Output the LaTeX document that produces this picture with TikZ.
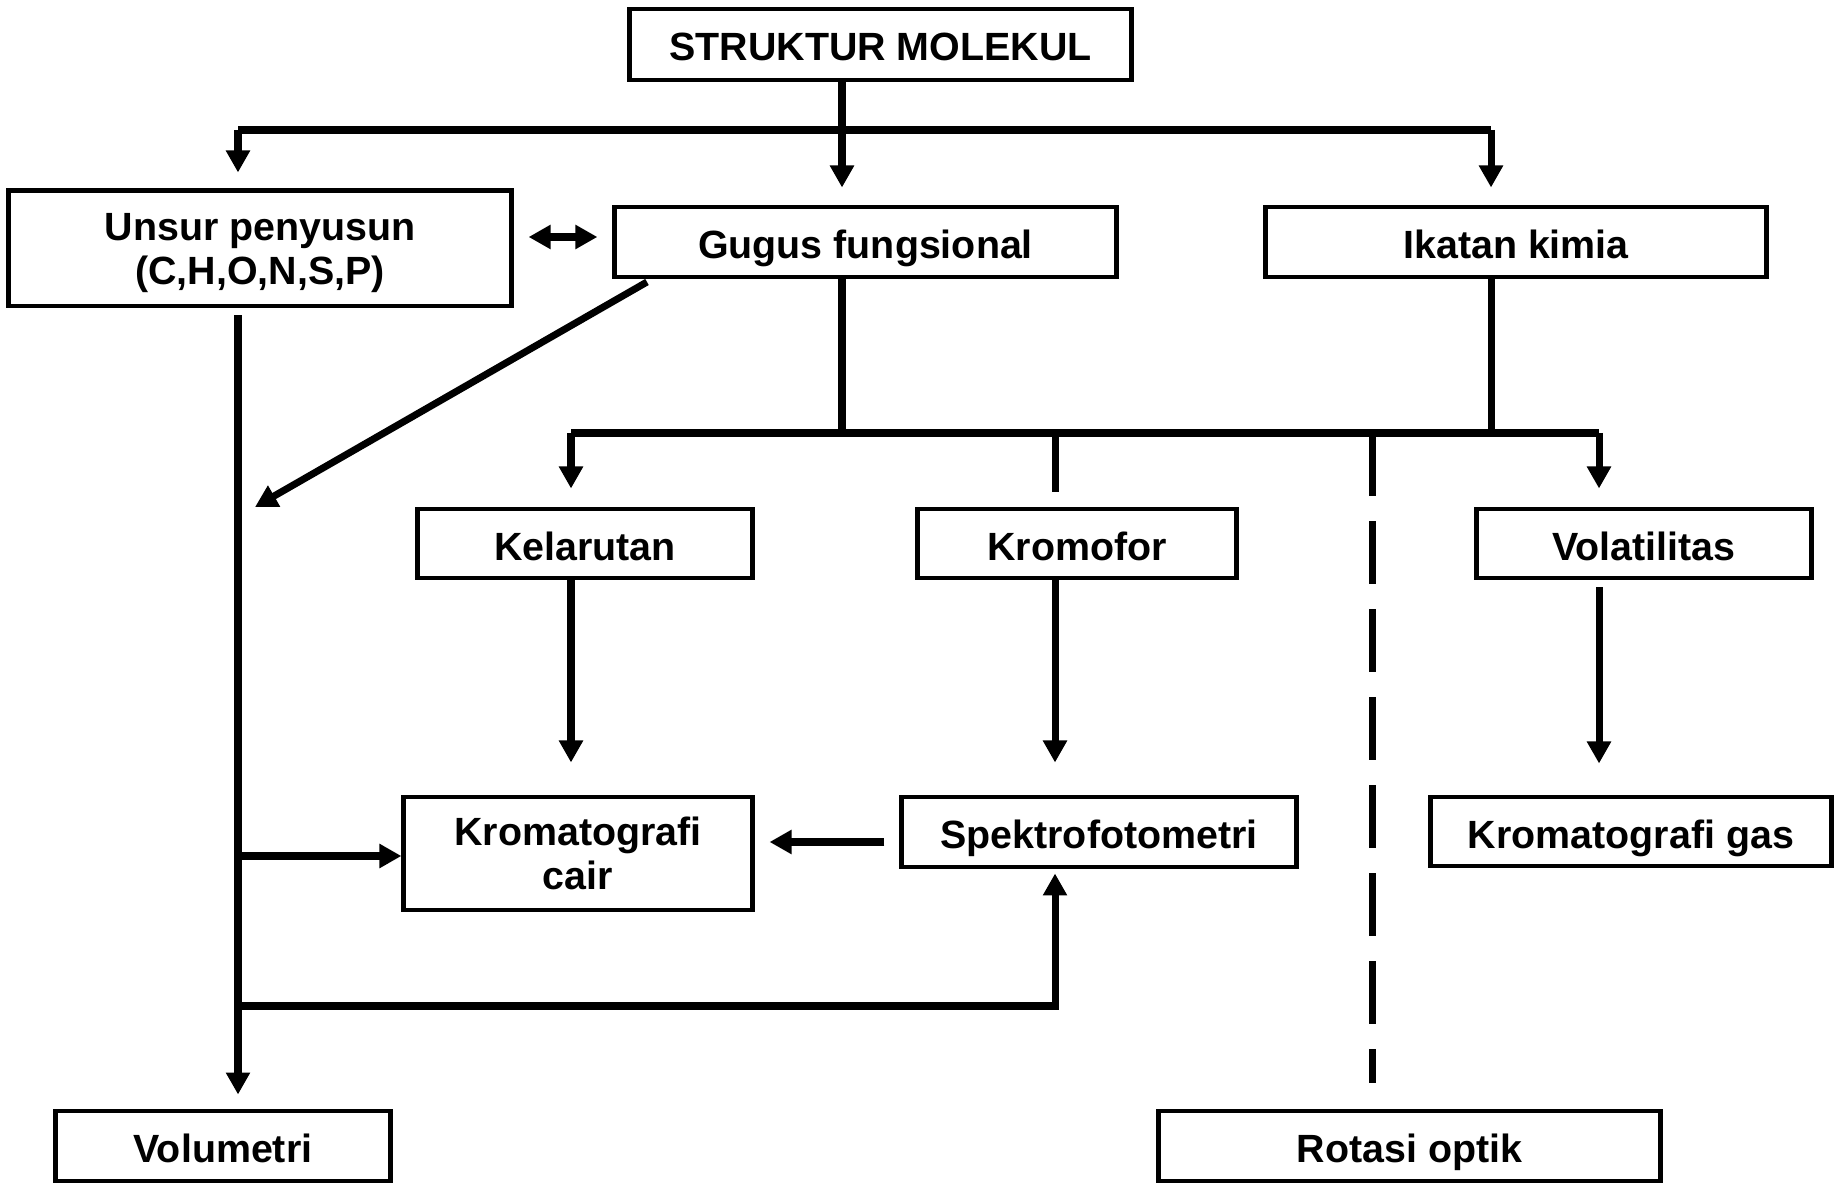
\documentclass[tikz,border=0pt]{standalone}
\usepackage{fontspec}
\setmainfont{Liberation Sans}
\usetikzlibrary{arrows.meta}
\tikzset{
	box/.style={draw,line width=1.4pt,inner sep=0pt,align=center,text depth=0pt,font=\bfseries\fontsize{11.2}{12.5}\selectfont},
	onebox/.style={box,text height=0.33cm},
	con/.style={line width=2pt},
	arr/.style={con,-{Triangle[length=0.22cm,width=0.23cm]}}
}
\begin{document}
\begin{tikzpicture}[x=0.01cm,y=-0.01cm]
		\useasboundingbox (0,0) rectangle (1834,1183);
		%Boxes
			\node[onebox,minimum width=5.01cm,minimum height=0.71cm] (mol) at (880.5,44.5) {STRUKTUR MOLEKUL};
			\node[box,text depth=-0.03cm,minimum width=5.02cm,minimum height=1.15cm] (unsur) at (260,248.5) {Unsur penyusun\\(C,H,O,N,S,P)};
			\node[onebox,minimum width=5.01cm,minimum height=0.70cm] (gugus) at (865.5,242) {Gugus fungsional};
			\node[onebox,minimum width=5.00cm,minimum height=0.70cm] (ikatan) at (1516,242) {Ikatan kimia};
			\node[onebox,minimum width=3.34cm,minimum height=0.69cm] (larut) at (585,543.5) {Kelarutan};
			\node[onebox,minimum width=3.18cm,minimum height=0.69cm] (kromo) at (1077,543.5) {Kromofor};
			\node[onebox,minimum width=3.34cm,minimum height=0.69cm] (volat) at (1644,543.5) {Volatilitas};
			\node[box,text depth=-0.02cm,minimum width=3.48cm,minimum height=1.13cm] (kcair) at (578,853.5) {Kromatografi\\cair};
			\node[onebox,minimum width=3.94cm,minimum height=0.70cm] (spektro) at (1099,832) {Spektrofotometri};
			\node[onebox,minimum width=4.00cm,minimum height=0.69cm] (kgas) at (1631,831.5) {Kromatografi gas};
			\node[onebox,minimum width=3.34cm,minimum height=0.70cm] (volum) at (223,1146) {Volumetri};
			\node[onebox,minimum width=5.01cm,minimum height=0.70cm] (rotasi) at (1409.5,1146) {Rotasi optik};
		%Junctions
			\coordinate (hub) at (842,130);
			\coordinate (topL) at (238,130);
			\coordinate (topR) at (1491,130);
			\coordinate (barL) at (571,433);
			\coordinate (barK) at (1055,433);
			\coordinate (barD) at (1372,433);
			\coordinate (barR) at (1599,433);
			\coordinate (da) at (0,237);
			\coordinate (sk) at (0,842);
			\coordinate (b1) at (238,856);
			\coordinate (b2) at (238,1006);
			\coordinate (d1) at (647,282);
			\coordinate (d2) at (255,507);
			\coordinate (dend) at (1372,1083);
		%Top level
			\draw[con] (topL) -- (topR);
			\draw[arr,shorten >=0.17cm] (mol.south -| hub) -- (hub |- gugus.north);
			\draw[arr,shorten >=0.16cm] (topL) -- (topL |- unsur.north);
			\draw[arr,shorten >=0.17cm] (topR) -- (topR |- ikatan.north);
			\draw[con,{Triangle[length=0.22cm,width=0.23cm]}-{Triangle[length=0.22cm,width=0.23cm]},shorten <=0.15cm,shorten >=0.15cm] (unsur.east |- da) -- (gugus.west |- da);
			\draw[arr] (d1) -- (d2);
		%Middle bar
			\draw[con] (gugus.south -| hub) -- (hub |- barL);
			\draw[con] (ikatan.south -| topR) -- (topR |- barL);
			\draw[con] (barL) -- (barR);
			\foreach \c in {barL,barR}
			{
				\draw[arr,shorten >=0.18cm] (\c) -- (\c |- larut.north);
			}
			\draw[con,shorten >=0.15cm] (barK) -- (barK |- kromo.north);
			\draw[con,dash pattern=on 0.63cm off 0.25cm] (barD) -- (dend);
		%Methods
			\draw[arr,shorten >=0.32cm] (larut.south -| barL) -- (kcair.north -| barL);
			\draw[arr,shorten >=0.32cm] (kromo.south -| barK) -- (spektro.north -| barK);
			\draw[arr,shorten <=0.07cm,shorten >=0.31cm] (volat.south -| barR) -- (kgas.north -| barR);
			\draw[arr,shorten <=0.15cm,shorten >=0.15cm] (spektro.west |- sk) -- (kcair.east |- sk);
		%Left trunk
			\draw[arr,shorten <=0.07cm,shorten >=0.14cm] (unsur.south -| topL) -- (topL |- volum.north);
			\draw[arr] (b1) -- (b1 -| kcair.west);
			\draw[arr,shorten >=0.04cm] (b2) -| (spektro.south -| barK);
\end{tikzpicture}
\end{document}
